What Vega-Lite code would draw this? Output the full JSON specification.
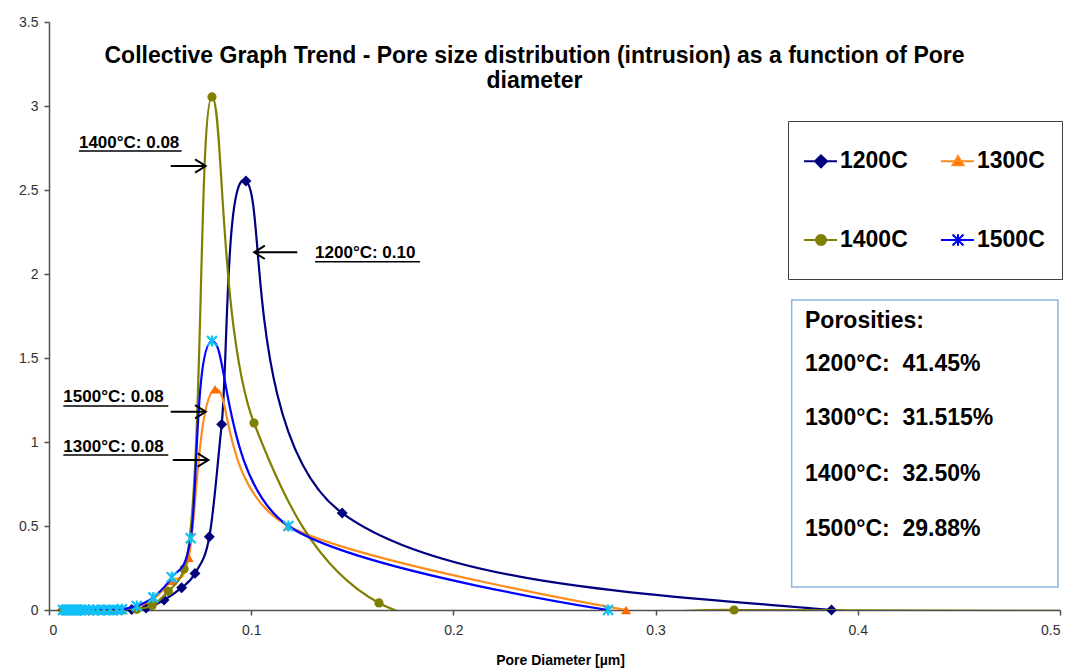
{
  "$schema": "https://vega.github.io/schema/vega-lite/v6.json",
  "width": 1011,
  "height": 588,
  "autosize": {"type": "none"},
  "padding": {"left": 49, "top": 22, "right": 14, "bottom": 59},
  "background": "white",
  "config": {"view": {"stroke": null}, "font": "Liberation Sans"},
  "title": {
    "text": ["Collective Graph Trend - Pore size distribution (intrusion) as a function of Pore", "diameter"],
    "anchor": "middle", "baseline": "top", "offset": -23, "dx": -20, "dy": 55,
    "fontSize": 23, "fontWeight": "bold", "font": "Liberation Sans", "lineHeight": 25, "color": "#000000"
  },
  "datasets": {
    "pts": [
      {"s":"1200C","x":0.0069,"y":0},{"s":"1200C","x":0.0084,"y":0},{"s":"1200C","x":0.0099,"y":0},{"s":"1200C","x":0.0114,"y":0},{"s":"1200C","x":0.0129,"y":0},{"s":"1200C","x":0.0143,"y":0},{"s":"1200C","x":0.0158,"y":0},{"s":"1200C","x":0.0178,"y":0},{"s":"1200C","x":0.0198,"y":0},{"s":"1200C","x":0.0218,"y":0},{"s":"1200C","x":0.0242,"y":0},{"s":"1200C","x":0.0272,"y":0},{"s":"1200C","x":0.0302,"y":0},{"s":"1200C","x":0.0336,"y":0},
      {"s":"1200C","x":0.0361,"y":0},{"s":"1200C","x":0.0409,"y":0.003},{"s":"1200C","x":0.048,"y":0.012},{"s":"1200C","x":0.0569,"y":0.06},{"s":"1200C","x":0.0656,"y":0.133},{"s":"1200C","x":0.0722,"y":0.218},{"s":"1200C","x":0.0793,"y":0.436},{"s":"1200C","x":0.0854,"y":1.105},{"s":"1200C","x":0.0974,"y":2.554},{"s":"1200C","x":0.145,"y":0.577},{"s":"1200C","x":0.387,"y":0},{"s":"1200C","x":0.7,"y":0},

      {"s":"1300C","x":0.0069,"y":0},{"s":"1300C","x":0.0084,"y":0},{"s":"1300C","x":0.0099,"y":0},{"s":"1300C","x":0.0114,"y":0},{"s":"1300C","x":0.0129,"y":0},{"s":"1300C","x":0.0143,"y":0},{"s":"1300C","x":0.0158,"y":0},{"s":"1300C","x":0.0178,"y":0},{"s":"1300C","x":0.0198,"y":0},{"s":"1300C","x":0.0218,"y":0},{"s":"1300C","x":0.0242,"y":0},{"s":"1300C","x":0.0272,"y":0},{"s":"1300C","x":0.0302,"y":0},{"s":"1300C","x":0.0336,"y":0},
      {"s":"1300C","x":0.0361,"y":0.003},{"s":"1300C","x":0.0434,"y":0.02},{"s":"1300C","x":0.0516,"y":0.065},{"s":"1300C","x":0.0607,"y":0.175},{"s":"1300C","x":0.0691,"y":0.311},{"s":"1300C","x":0.0821,"y":1.314},{"s":"1300C","x":0.1184,"y":0.5},{"s":"1300C","x":0.2854,"y":0},

      {"s":"1400C","x":0.0069,"y":0},{"s":"1400C","x":0.0084,"y":0},{"s":"1400C","x":0.0099,"y":0},{"s":"1400C","x":0.0114,"y":0},{"s":"1400C","x":0.0129,"y":0},{"s":"1400C","x":0.0143,"y":0},{"s":"1400C","x":0.0158,"y":0},{"s":"1400C","x":0.0178,"y":0},{"s":"1400C","x":0.0198,"y":0},{"s":"1400C","x":0.0218,"y":0},{"s":"1400C","x":0.0242,"y":0},{"s":"1400C","x":0.0272,"y":0},{"s":"1400C","x":0.0302,"y":0},{"s":"1400C","x":0.0336,"y":0},
      {"s":"1400C","x":0.0361,"y":0},{"s":"1400C","x":0.0434,"y":0.004},{"s":"1400C","x":0.051,"y":0.027},{"s":"1400C","x":0.059,"y":0.111},{"s":"1400C","x":0.0668,"y":0.244},{"s":"1400C","x":0.0806,"y":3.054},{"s":"1400C","x":0.1014,"y":1.113},{"s":"1400C","x":0.1632,"y":0.042},{"s":"1400C","x":0.3388,"y":0},{"s":"1400C","x":0.7,"y":0},

      {"s":"1500C","x":0.0069,"y":0},{"s":"1500C","x":0.0084,"y":0},{"s":"1500C","x":0.0099,"y":0},{"s":"1500C","x":0.0114,"y":0},{"s":"1500C","x":0.0129,"y":0},{"s":"1500C","x":0.0143,"y":0},{"s":"1500C","x":0.0158,"y":0},{"s":"1500C","x":0.0178,"y":0},{"s":"1500C","x":0.0198,"y":0},{"s":"1500C","x":0.0218,"y":0},{"s":"1500C","x":0.0242,"y":0},{"s":"1500C","x":0.0272,"y":0},{"s":"1500C","x":0.0302,"y":0},{"s":"1500C","x":0.0336,"y":0},
      {"s":"1500C","x":0.0361,"y":0.004},{"s":"1500C","x":0.0434,"y":0.024},{"s":"1500C","x":0.0516,"y":0.075},{"s":"1500C","x":0.0607,"y":0.195},{"s":"1500C","x":0.0701,"y":0.427},{"s":"1500C","x":0.0806,"y":1.601},{"s":"1500C","x":0.1184,"y":0.5},{"s":"1500C","x":0.2765,"y":0}
    ],
    "ann": [
      {"t":"1400°C: 0.08","x":0.0148,"y":2.748},
      {"t":"1200°C: 0.10","x":0.1316,"y":2.093},
      {"t":"1500°C: 0.08","x":0.0071,"y":1.24},
      {"t":"1300°C: 0.08","x":0.0071,"y":0.942}
    ],
    "under": [
      {"x":0.0148,"x2":0.0656,"y":2.732},
      {"x":0.1316,"x2":0.1835,"y":2.073},
      {"x":0.0071,"x2":0.059,"y":1.214},
      {"x":0.0071,"x2":0.059,"y":0.923}
    ],
    "shafts": [
      {"x":0.0602,"x2":0.0775,"y":2.643},
      {"x":0.1228,"x2":0.1015,"y":2.129},
      {"x":0.0602,"x2":0.0775,"y":1.18},
      {"x":0.0612,"x2":0.0788,"y":0.893}
    ],
    "heads": [
      {"x":0.0775,"y":2.643,"d":"r"},
      {"x":0.1015,"y":2.129,"d":"l"},
      {"x":0.0775,"y":1.18,"d":"r"},
      {"x":0.0788,"y":0.893,"d":"r"}
    ],
    "box": [{"x":0.3673,"x2":0.499,"y":1.845,"y2":0.137}],
    "por": [
      {"t":"Porosities:","x":0.3739,"y":1.679},
      {"t":"1200°C:\u00a0 41.45%","x":0.3739,"y":1.423},
      {"t":"1300°C:\u00a0 31.515%","x":0.3739,"y":1.101},
      {"t":"1400°C:\u00a0 32.50%","x":0.3739,"y":0.768},
      {"t":"1500°C:\u00a0 29.88%","x":0.3739,"y":0.44}
    ]
  },
  "data": {"name": "pts"},
  "encoding": {
    "x": {
      "field": "x", "type": "quantitative",
      "scale": {"domain": [0, 0.5], "nice": false, "zero": false},
      "axis": {
        "title": "Pore Diameter [µm]", "values": [0, 0.1, 0.2, 0.3, 0.4, 0.5], "format": "~g",
        "grid": false, "tickSize": 5, "labelPadding": 8, "labelFont": "Liberation Sans", "labelFontSize": 14,
        "labelColor": "#303030", "domainColor": "#505050", "tickColor": "#505050", "domainWidth": 1.5, "tickWidth": 1.5,
        "titleFont": "Liberation Sans", "titleFontSize": 14, "titleFontWeight": "bold", "titlePadding": 16,
        "titleColor": "#000000", "titleX": 511
      }
    },
    "y": {
      "field": "y", "type": "quantitative",
      "scale": {"domain": [0, 3.5], "nice": false, "zero": false},
      "axis": {
        "title": null, "values": [0, 0.5, 1, 1.5, 2, 2.5, 3, 3.5], "format": "~g",
        "grid": false, "tickSize": 5, "labelPadding": 6, "labelFont": "Liberation Sans", "labelFontSize": 14,
        "labelColor": "#303030", "domainColor": "#505050", "tickColor": "#505050", "domainWidth": 1.5, "tickWidth": 1.5
      }
    }
  },
  "layer": [
    {"transform": [{"filter": "datum.s === '1200C'"}],
     "mark": {"type": "line", "interpolate": "cardinal", "tension": 0, "clip": true, "color": "#000080", "strokeWidth": 2.2}},
    {"transform": [{"filter": "datum.s === '1200C' && datum.x < 0.5"}],
     "mark": {"type": "point", "shape": "diamond", "filled": true, "color": "#00007A", "size": 120, "opacity": 1}},
    {"transform": [{"filter": "datum.s === '1300C'"}],
     "mark": {"type": "line", "interpolate": "cardinal", "tension": 0, "clip": true, "color": "#FF8C1A", "strokeWidth": 2.2}},
    {"transform": [{"filter": "datum.s === '1300C' && datum.x < 0.5"}],
     "mark": {"type": "point", "shape": "triangle-up", "filled": true, "color": "#FF6A00", "size": 100, "opacity": 1}},
    {"transform": [{"filter": "datum.s === '1400C'"}],
     "mark": {"type": "line", "interpolate": "catmull-rom", "clip": true, "color": "#808000", "strokeWidth": 2.2}},
    {"transform": [{"filter": "datum.s === '1400C' && datum.x < 0.5"}],
     "mark": {"type": "point", "shape": "circle", "filled": true, "color": "#808000", "size": 85, "opacity": 1}},
    {"transform": [{"filter": "datum.s === '1500C'"}],
     "mark": {"type": "line", "interpolate": "cardinal", "tension": 0, "clip": true, "color": "#0000FF", "strokeWidth": 2.2}},
    {"transform": [{"filter": "datum.s === '1500C' && datum.x < 0.5"}],
     "mark": {"type": "point", "shape": "M-1,-1L1,1M-1,1L1,-1M0,-1.1L0,1.1", "filled": false, "color": "#10C0F8", "strokeWidth": 2.2, "size": 100, "opacity": 1}},

    {"data": {"name": "box"},
     "mark": {"type": "rect", "fill": "#FFFFFF", "stroke": "#8DB3E2", "strokeWidth": 1.5},
     "encoding": {"x2": {"field": "x2"}, "y2": {"field": "y2"}}},
    {"data": {"name": "por"},
     "mark": {"type": "text", "align": "left", "baseline": "alphabetic", "font": "Liberation Sans", "fontSize": 23, "fontWeight": "bold", "color": "#000000"},
     "encoding": {"text": {"field": "t"}}},

    {"data": {"name": "ann"},
     "mark": {"type": "text", "align": "left", "baseline": "alphabetic", "font": "Liberation Sans", "fontSize": 17, "fontWeight": "bold", "color": "#000000"},
     "encoding": {"text": {"field": "t"}}},
    {"data": {"name": "under"},
     "mark": {"type": "rule", "color": "#000000", "strokeWidth": 1.5},
     "encoding": {"x2": {"field": "x2"}}},
    {"data": {"name": "shafts"},
     "mark": {"type": "rule", "color": "#000000", "strokeWidth": 2},
     "encoding": {"x2": {"field": "x2"}}},
    {"data": {"name": "heads"},
     "transform": [{"filter": "datum.d === 'r'"}],
     "mark": {"type": "point", "shape": "M-1,-0.63L0,0L-1,0.63", "filled": false, "color": "#000000", "strokeWidth": 2, "size": 450, "opacity": 1}},
    {"data": {"name": "heads"},
     "transform": [{"filter": "datum.d === 'l'"}],
     "mark": {"type": "point", "shape": "M1,-0.63L0,0L1,0.63", "filled": false, "color": "#000000", "strokeWidth": 2, "size": 450, "opacity": 1}},

    {"data": {"values": [{"s": "1200C"}, {"s": "1300C"}, {"s": "1400C"}, {"s": "1500C"}]},
     "mark": {"type": "point", "filled": true, "opacity": 0, "strokeWidth": 2},
     "encoding": {
       "x": {"datum": 0.45},
       "y": {"datum": 2.0},
       "fill": {
         "field": "s", "type": "nominal",
         "scale": {"domain": ["1200C", "1300C", "1400C", "1500C"], "range": ["#00007A", "#FF6A00", "#808000", "#10C0F8"]},
         "legend": {
           "title": null, "orient": "none", "legendX": 739, "legendY": 99, "columns": 2, "direction": "horizontal",
           "symbolSize": 6084, "symbolStrokeWidth": 2, "symbolOpacity": 1,
           "labelFont": "Liberation Sans", "labelFontSize": 23, "labelFontWeight": "bold", "labelColor": "#000000",
           "labelOffset": -28, "labelLimit": 300,
           "padding": 0, "rowPadding": -7, "columnPadding": -14.6,
           "strokeColor": "#404040", "fillColor": "#FFFFFF",
           "encode": {"symbols": {"update": {"opacity": {"value": 1}}}}
         }
       },
       "stroke": {
         "field": "s", "type": "nominal",
         "scale": {"domain": ["1200C", "1300C", "1400C", "1500C"], "range": ["#000080", "#FF8C1A", "#808000", "#0000FF"]}
       },
       "shape": {
         "field": "s", "type": "nominal",
         "scale": {"domain": ["1200C", "1300C", "1400C", "1500C"], "range": [
           "M0,-1M0,0.88M2.373,0M-0.615,0L0.231,0M-0.179,-0.154L-0.025,0L-0.179,0.154L-0.333,0Z",
           "M0,-1M0,0.88M2.373,0M-0.615,0L0.231,0M-0.179,-0.14L-0.039,0.1L-0.319,0.1Z",
           "M0,-1M0,0.88M2.373,0M-0.615,0L0.231,0M-0.307,0A0.128,0.128,0,1,0,-0.051,0A0.128,0.128,0,1,0,-0.307,0Z",
           "M0,-1M0,0.88M2.373,0M-0.615,0L0.231,0M-0.319,-0.14L-0.039,0.14M-0.319,0.14L-0.039,-0.14M-0.179,-0.15L-0.179,0.15"
         ]}
       }
     }}
  ]
}
